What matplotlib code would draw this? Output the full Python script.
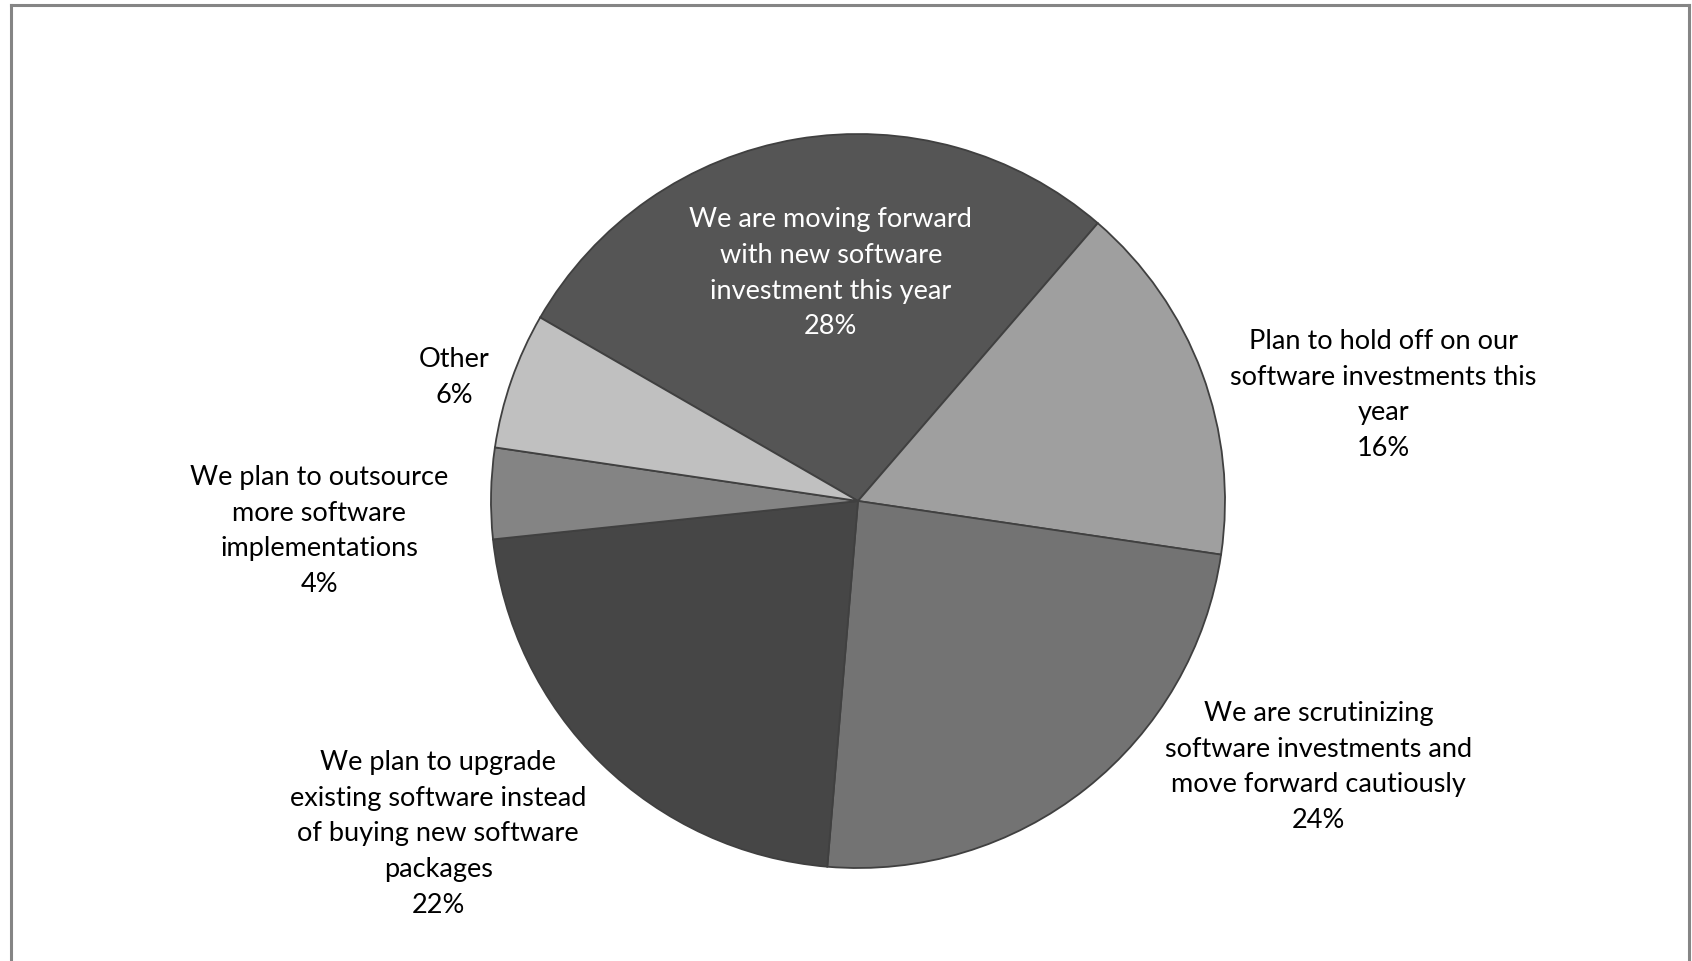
"""Pie chart of planned software investment, rendered to out.png."""
import numpy as np
import matplotlib

matplotlib.use("Agg")
import matplotlib.pyplot as plt
from matplotlib.lines import Line2D

plt.rcParams["font.family"] = ["Lato", "DejaVu Sans"]

# slices in clockwise order, starting from the upper-left edge of the pie
labels = [
    "We are moving forward\nwith new software\ninvestment this year",
    "Plan to hold off on our\nsoftware investments this\nyear",
    "We are scrutinizing\nsoftware investments and\nmove forward cautiously",
    "We plan to upgrade\nexisting software instead\nof buying new software\npackages",
    "We plan to outsource\nmore software\nimplementations",
    "Other",
]
shares = [28, 16, 24, 22, 4, 6]

colors = ["#555555", "#9f9f9f", "#737373", "#464646", "#848484", "#c0c0c0"]
text_colors = ["white", "black", "black", "black", "black", "black"]
# label centres as (angle in degrees, distance in pie radii)
label_pos = [(96.8, 0.625), (11.4, 1.46), (-30.0, 1.45), (-141.6, 1.46), (183.2, 1.47), (163.0, 1.15)]

W, H = 1692, 961
fig = plt.figure(figsize=(W / 100, H / 100), dpi=100)

# pie centred at (858, 501) px with a 367 px radius
cx, cy, r = 858, 501, 367
ax = fig.add_axes([(cx - r) / W, (H - cy - r) / H, 2 * r / W, 2 * r / H])
ax.pie(shares, colors=colors, startangle=150, counterclock=False, radius=1.0,
       wedgeprops=dict(edgecolor="#404040", linewidth=1.3))
ax.set_xlim(-1, 1)
ax.set_ylim(-1, 1)
ax.set_aspect("equal")
ax.axis("off")

for lab, val, col, (ang, dist) in zip(labels, shares, text_colors, label_pos):
    x = dist * np.cos(np.radians(ang))
    y = dist * np.sin(np.radians(ang))
    ax.text(x, y, f"{lab}\n{val}%", ha="center", va="center", color=col,
            fontsize=19.5, linespacing=1.53, clip_on=False)

# chart-area frame: left, top and right edges only
frame = dict(color="#858585", linewidth=2.2, transform=fig.transFigure)
x0, x1, yt = 11 / W, 1689 / W, 1 - 5 / H
fig.add_artist(Line2D([x0, x0], [0, yt], **frame))
fig.add_artist(Line2D([x0, x1], [yt, yt], **frame))
fig.add_artist(Line2D([x1, x1], [0, yt], **frame))

fig.savefig("out.png", dpi=100, facecolor="white")
